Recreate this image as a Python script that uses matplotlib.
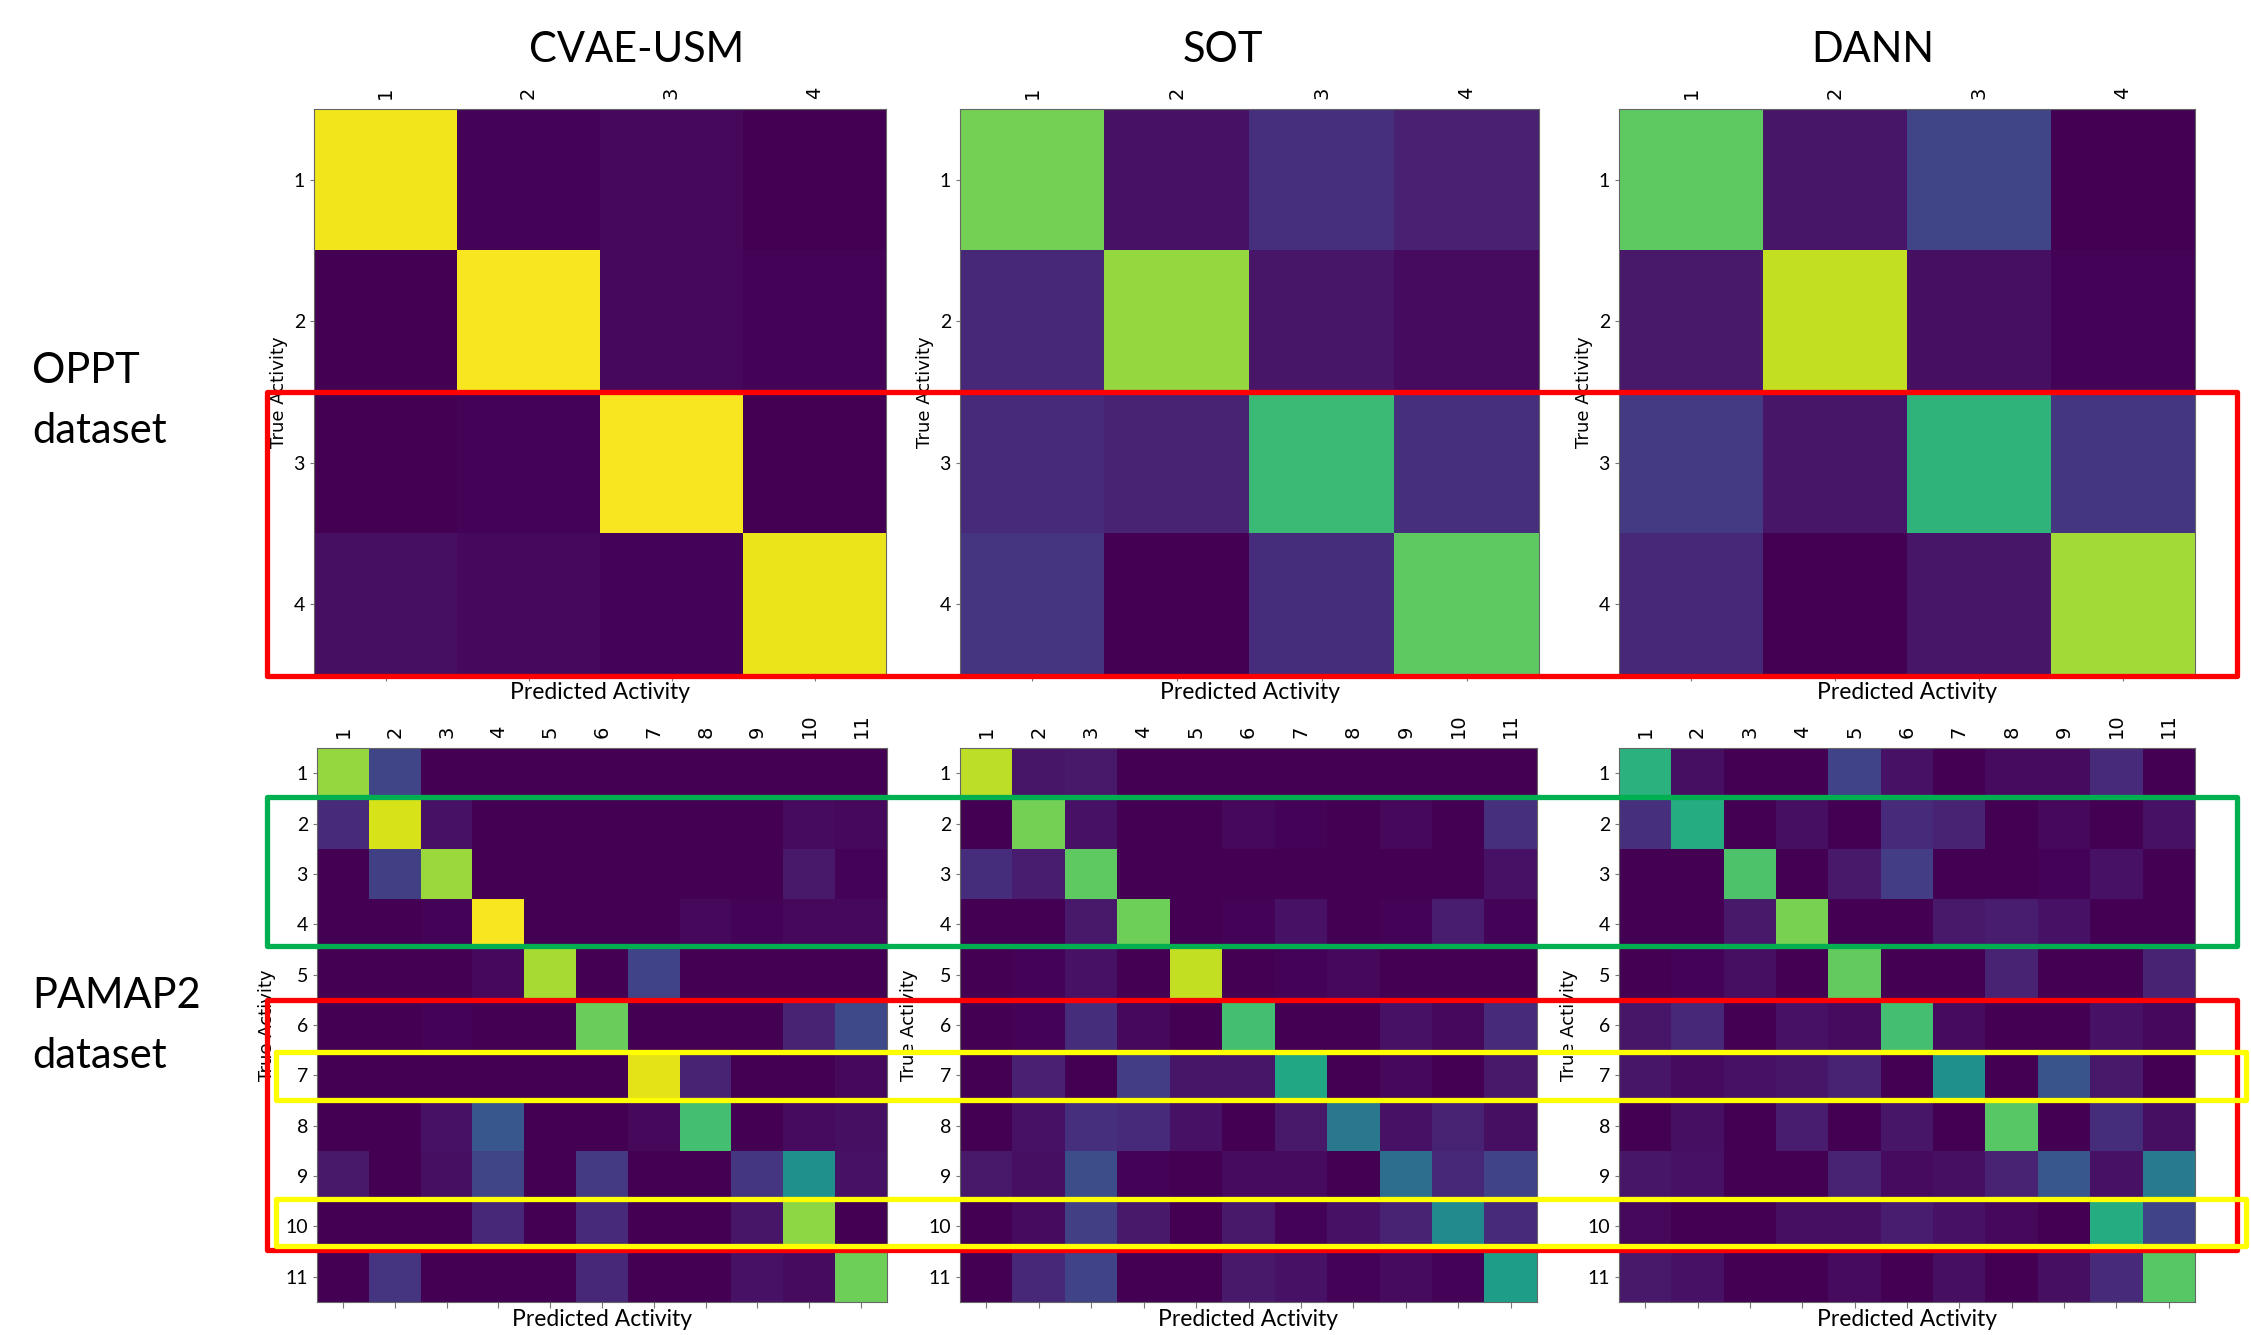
import numpy as np
import matplotlib
matplotlib.use('Agg')
import matplotlib.pyplot as plt
from matplotlib.patches import Rectangle

W, H = 2251, 1335

methods = ['CVAE-USM', 'SOT', 'DANN']
oppt_labels = ['1', '2', '3', '4']
pamap_labels = [str(i) for i in range(1, 12)]

# OPPT confusion matrices (rows = true, cols = predicted), normalised 0..1
oppt_cvae = [[0.98, 0.01, 0.02, 0.00],
             [0.00, 0.99, 0.02, 0.01],
             [0.00, 0.01, 0.99, 0.00],
             [0.04, 0.02, 0.01, 0.97]]
oppt_sot = [[0.79, 0.05, 0.14, 0.09],
            [0.11, 0.84, 0.06, 0.03],
            [0.12, 0.10, 0.68, 0.14],
            [0.15, 0.00, 0.13, 0.75]]
oppt_dann = [[0.75, 0.06, 0.21, 0.00],
             [0.07, 0.91, 0.04, 0.01],
             [0.17, 0.06, 0.65, 0.16],
             [0.11, 0.00, 0.06, 0.86]]

# PAMAP2 confusion matrices
pamap_cvae = [[0.84, 0.21, 0, 0, 0, 0, 0, 0, 0, 0, 0],
              [0.12, 0.94, 0.05, 0, 0, 0, 0, 0, 0, 0.03, 0.02],
              [0, 0.19, 0.85, 0, 0, 0, 0, 0, 0, 0.07, 0.01],
              [0, 0, 0.01, 0.99, 0, 0, 0, 0.02, 0.01, 0.02, 0.02],
              [0, 0, 0, 0.02, 0.87, 0, 0.20, 0, 0, 0, 0],
              [0, 0, 0.01, 0, 0, 0.77, 0, 0, 0, 0.10, 0.22],
              [0, 0, 0, 0, 0, 0, 0.96, 0.10, 0, 0, 0.02],
              [0, 0, 0.05, 0.27, 0, 0, 0.02, 0.70, 0, 0.03, 0.04],
              [0.07, 0, 0.04, 0.21, 0, 0.17, 0, 0, 0.16, 0.50, 0.05],
              [0, 0, 0, 0.11, 0, 0.12, 0, 0, 0.06, 0.83, 0],
              [0, 0.15, 0, 0, 0, 0.11, 0, 0, 0.05, 0.03, 0.78]]
pamap_sot = [[0.90, 0.06, 0.07, 0, 0, 0, 0, 0, 0, 0, 0],
             [0, 0.79, 0.05, 0, 0, 0.02, 0.01, 0, 0.02, 0, 0.14],
             [0.13, 0.08, 0.75, 0, 0, 0, 0, 0, 0, 0, 0.05],
             [0, 0, 0.07, 0.78, 0, 0.01, 0.05, 0, 0.01, 0.08, 0.01],
             [0, 0.01, 0.05, 0, 0.91, 0, 0.01, 0.02, 0, 0, 0],
             [0, 0.01, 0.13, 0.02, 0, 0.70, 0, 0, 0.05, 0.02, 0.12],
             [0, 0.09, 0, 0.18, 0.06, 0.06, 0.60, 0, 0.02, 0, 0.07],
             [0, 0.05, 0.14, 0.12, 0.05, 0, 0.07, 0.40, 0.05, 0.10, 0.04],
             [0.07, 0.04, 0.24, 0.01, 0, 0.03, 0.03, 0, 0.36, 0.11, 0.20],
             [0, 0.03, 0.19, 0.07, 0, 0.07, 0.01, 0.05, 0.10, 0.48, 0.12],
             [0, 0.11, 0.20, 0, 0, 0.07, 0.05, 0.01, 0.03, 0.01, 0.56]]
pamap_dann = [[0.64, 0.04, 0, 0, 0.20, 0.05, 0, 0.03, 0.03, 0.12, 0],
              [0.14, 0.62, 0, 0.04, 0, 0.12, 0.10, 0, 0.02, 0, 0.05],
              [0, 0, 0.72, 0, 0.07, 0.18, 0, 0, 0.01, 0.05, 0],
              [0, 0, 0.07, 0.80, 0, 0, 0.07, 0.08, 0.05, 0, 0],
              [0, 0.01, 0.04, 0, 0.76, 0, 0, 0.10, 0, 0, 0.10],
              [0.06, 0.11, 0, 0.05, 0.03, 0.70, 0.03, 0, 0, 0.05, 0.02],
              [0.06, 0.03, 0.05, 0.06, 0.10, 0, 0.50, 0, 0.26, 0.07, 0],
              [0, 0.04, 0, 0.08, 0, 0.06, 0, 0.74, 0, 0.13, 0.04],
              [0.06, 0.05, 0, 0, 0.10, 0.03, 0.04, 0.10, 0.27, 0.05, 0.41],
              [0.02, 0, 0, 0.04, 0.04, 0.08, 0.05, 0.02, 0, 0.62, 0.20],
              [0.07, 0.05, 0, 0, 0.03, 0, 0.04, 0, 0.04, 0.12, 0.74]]

SANS = ['Lato', 'DejaVu Sans']


def px_axes(fig, x0, y0, x1, y1):
    # pixel box (from top-left) -> figure fraction axes
    return fig.add_axes([x0 / W, 1 - y1 / H, (x1 - x0) / W, (y1 - y0) / H])


def draw_cm(ax, cm, labels, ylab_x):
    ax.imshow(np.array(cm), cmap='viridis', vmin=0, vmax=1,
              aspect='auto', interpolation='nearest')
    n = len(labels)
    ax.set_xticks(range(n))
    ax.set_yticks(range(n))
    ax.set_xticklabels(labels, rotation=90, fontsize=14, family='DejaVu Sans')
    ax.set_yticklabels(labels, fontsize=14, family=SANS)
    ax.tick_params(axis='x', top=False, labeltop=True, bottom=True,
                   labelbottom=False, length=4, color='#777777')
    ax.tick_params(axis='y', length=3, color='#777777')
    ax.set_ylabel('True Activity', fontsize=13, family='DejaVu Sans')
    ax.yaxis.set_label_coords(ylab_x, 0.5)
    ax.set_xlabel('Predicted Activity', fontsize=16.5, family=SANS)
    ax.xaxis.set_label_position('bottom')
    ax.xaxis.set_label_coords(0.5, -0.012)
    for sp in ax.spines.values():
        sp.set_color('#666666')
        sp.set_linewidth(0.8)


fig = plt.figure(figsize=(W / 100, H / 100), dpi=100)

top_boxes = [(314, 109, 886, 675), (960, 109, 1539, 675), (1619, 109, 2195, 675)]
bot_boxes = [(317, 748, 887, 1302), (960, 748, 1537, 1302), (1619, 748, 2195, 1302)]

for box, cm in zip(top_boxes, [oppt_cvae, oppt_sot, oppt_dann]):
    ax = px_axes(fig, *box)
    draw_cm(ax, cm, oppt_labels, -0.045)

for box, cm in zip(bot_boxes, [pamap_cvae, pamap_sot, pamap_dann]):
    ax = px_axes(fig, *box)
    draw_cm(ax, cm, pamap_labels, -0.072)

# column titles
for name, xc in zip(methods, [637, 1223, 1873]):
    fig.text(xc / W, 1 - 62 / H, name, fontsize=30, family=SANS,
             ha='center', va='baseline')

# dataset labels
fig.text(32 / W, 1 - 383 / H, 'OPPT', fontsize=30, family=SANS, va='baseline')
fig.text(32 / W, 1 - 443 / H, 'dataset', fontsize=30, family=SANS, va='baseline')
fig.text(32 / W, 1 - 1008 / H, 'PAMAP2', fontsize=30, family=SANS, va='baseline')
fig.text(32 / W, 1 - 1068 / H, 'dataset', fontsize=30, family=SANS, va='baseline')

# highlight boxes (pixel coords, top-left origin)
highlights = [
    (267, 392, 2237, 676, '#ff0000'),
    (267, 797, 2237, 946, '#00b050'),
    (267, 1000, 2237, 1250, '#ff0000'),
    (276, 1052, 2246, 1100, '#ffff00'),
    (276, 1199, 2246, 1246, '#ffff00'),
]
for x0, y0, x1, y1, c in highlights:
    fig.add_artist(Rectangle((x0 / W, 1 - y1 / H), (x1 - x0) / W, (y1 - y0) / H,
                             transform=fig.transFigure, fill=False,
                             edgecolor=c, linewidth=3.8, joinstyle='round',
                             zorder=10))

fig.savefig('out.png', dpi=100)
